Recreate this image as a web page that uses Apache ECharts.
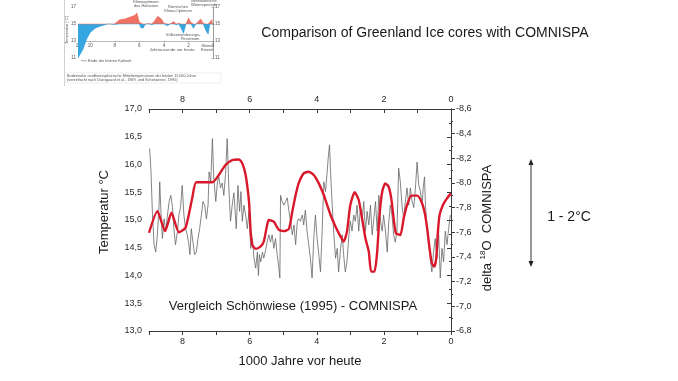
<!DOCTYPE html>
<html>
<head>
<meta charset="utf-8">
<script src="https://cdn.jsdelivr.net/npm/echarts@6/dist/echarts.min.js"></script>
<style>
html,body{margin:0;padding:0;background:#ffffff;}
#chart{width:678px;height:381px;}
</style>
</head>
<body>
<div id="chart"></div>
<script>
// ---- Main chart: Schönwiese (1995) temperature reconstruction (left axis, °C)
const redYears = [9.00,8.75,8.52,8.33,8.11,7.91,7.71,7.59,7.11,6.92,
  6.72,6.52,6.32,6.22,6.12,6.02,5.97,5.92,5.82,5.68,
  5.58,5.48,5.43,5.28,5.13,4.98,4.83,4.73,4.63,4.54,
  4.39,4.24,4.09,3.94,3.79,3.74,3.59,3.44,3.29,3.20,
  3.10,3.00,2.87,2.75,2.65,2.55,2.45,2.38,2.28,2.20,
  2.13,2.05,1.96,1.86,1.78,1.71,1.64,1.51,1.41,1.31,
  1.18,1.01,0.88,0.79,0.71,0.64,0.57,0.50,0.44,0.39,
  0.34,0.24,0.12,0.00];
const redTemp = [14.77,15.16,14.80,15.13,14.78,14.86,15.40,15.68,15.68,15.81,
  15.99,16.08,16.09,16.02,15.81,15.33,14.79,14.55,14.48,14.52,
  14.61,14.91,15.00,14.97,14.82,14.80,14.84,15.15,15.45,15.66,
  15.84,15.87,15.81,15.66,15.45,15.36,15.09,14.88,14.70,14.61,
  14.79,15.27,15.50,15.36,15.03,14.67,14.43,14.07,14.07,14.43,
  15.09,15.51,15.66,15.60,15.39,15.03,14.76,14.73,15.03,15.27,
  15.44,15.44,15.33,15.15,14.85,14.49,14.22,14.16,14.31,14.79,
  15.09,15.27,15.39,15.48];

// ---- Main chart: COMNISPA delta 18O (right axis, inverted)
const greyYears = [8.98,8.94,8.90,8.85,8.80,8.75,8.70,8.68,8.64,8.60,
  8.55,8.50,8.45,8.40,8.35,8.30,8.26,8.21,8.15,8.11,
  8.06,8.01,7.96,7.91,7.86,7.81,7.78,7.74,7.69,7.64,
  7.59,7.54,7.49,7.44,7.39,7.34,7.29,7.24,7.21,7.16,
  7.11,7.07,7.01,6.96,6.92,6.87,6.82,6.77,6.72,6.67,
  6.62,6.57,6.52,6.47,6.44,6.40,6.35,6.30,6.26,6.22,
  6.17,6.12,6.07,6.02,5.97,5.92,5.87,5.82,5.77,5.74,
  5.71,5.67,5.62,5.58,5.53,5.48,5.43,5.38,5.33,5.28,
  5.23,5.18,5.13,5.10,5.08,5.03,4.98,4.93,4.88,4.83,
  4.78,4.73,4.68,4.63,4.58,4.54,4.49,4.43,4.39,4.34,
  4.29,4.24,4.19,4.14,4.09,4.04,3.99,3.94,3.89,3.84,
  3.79,3.74,3.69,3.66,3.62,3.59,3.54,3.49,3.44,3.39,
  3.35,3.29,3.24,3.20,3.15,3.10,3.05,3.00,2.95,2.90,
  2.85,2.80,2.75,2.70,2.65,2.60,2.55,2.50,2.45,2.40,
  2.35,2.30,2.25,2.20,2.15,2.10,2.05,2.01,1.96,1.90,
  1.86,1.81,1.76,1.71,1.66,1.61,1.56,1.51,1.46,1.41,
  1.36,1.31,1.26,1.21,1.16,1.11,1.06,1.01,0.96,0.91,
  0.86,0.83,0.79,0.76,0.71,0.67,0.62,0.57,0.52,0.47,
  0.42,0.37,0.32,0.27,0.22,0.17,0.12,0.07,0.02];
const greyDelta = [-8.28,-8.09,-7.77,-7.50,-7.44,-7.58,-7.82,-8.01,-7.74,-7.55,
  -7.71,-7.61,-7.74,-7.85,-7.90,-7.80,-7.63,-7.50,-7.61,-7.74,
  -7.80,-7.98,-7.74,-7.63,-7.58,-7.50,-7.42,-7.63,-7.52,-7.42,
  -7.44,-7.55,-7.63,-7.74,-7.85,-7.82,-7.71,-7.82,-8.09,-8.01,
  -8.36,-8.04,-7.85,-8.01,-8.05,-7.96,-8.00,-7.90,-8.07,-8.36,
  -7.96,-7.69,-7.82,-7.92,-7.80,-7.63,-7.98,-7.77,-7.93,-7.69,
  -7.82,-7.74,-7.63,-7.77,-7.47,-7.55,-7.39,-7.31,-7.44,-7.25,
  -7.42,-7.36,-7.44,-7.39,-7.45,-7.52,-7.58,-7.52,-7.58,-7.47,
  -7.55,-7.42,-7.31,-7.23,-7.90,-7.85,-7.82,-7.85,-7.88,-7.77,
  -7.69,-7.58,-7.66,-7.50,-7.69,-7.71,-7.69,-7.74,-7.66,-7.78,
  -7.61,-7.50,-7.39,-7.23,-7.55,-7.74,-7.55,-7.42,-7.28,-7.61,
  -8.01,-7.93,-8.09,-8.20,-8.31,-8.09,-7.82,-7.58,-7.39,-7.47,
  -7.28,-7.47,-7.58,-7.42,-7.28,-7.36,-7.55,-7.69,-7.61,-7.74,
  -7.69,-7.82,-7.61,-7.80,-7.69,-7.85,-7.61,-7.77,-7.66,-7.82,
  -7.58,-7.71,-7.85,-7.61,-7.90,-7.69,-7.61,-7.74,-7.63,-7.44,
  -7.66,-7.82,-7.74,-7.58,-7.52,-7.61,-8.12,-8.01,-7.82,-7.71,
  -7.85,-7.96,-7.82,-7.96,-7.85,-7.80,-7.96,-8.17,-7.98,-7.93,
  -7.82,-7.96,-8.05,-7.82,-7.61,-7.52,-7.39,-7.28,-7.44,-7.55,
  -7.39,-7.61,-7.23,-7.47,-7.36,-7.61,-7.50,-7.63,-7.74];

// ---- Inset: simplified Holocene temperature curve (°C, thousands of years before present)
const insetYears = [11.0,10.85,10.6,10.3,10.0,9.6,9.2,8.8,8.6,8.5,8.35,8.2,8.05,7.9,7.6,7.2,6.8,6.4,6.2,6.0,
  5.9,5.7,5.5,5.2,5.0,4.8,4.5,4.2,4.0,3.7,3.5,3.2,3.0,2.8,2.6,2.4,2.2,2.0,1.8,1.6,
  1.4,1.2,1.0,0.8,0.6,0.4,0.25,0.1,0.0];
const insetTemp = [11.0,11.0,12.0,13.2,14.0,14.5,14.75,14.9,15.0,15.15,15.0,15.15,14.95,15.05,15.5,15.6,15.8,16.0,16.3,15.2,
  14.6,14.5,15.0,15.05,14.9,15.3,15.9,15.6,15.1,14.8,15.0,15.3,14.9,15.1,14.5,13.9,15.0,15.7,15.2,14.5,
  15.0,15.3,15.6,15.1,14.3,13.8,15.0,15.5,15.4];
const insetBase = 15;

const F = '"Liberation Sans", Arial, sans-serif';
const comma = v => (Math.round(v * 10) / 10).toFixed(1).replace('.', ',');
const AX = '#3a3a3a';

const redData = redYears.map((x, i) => [x, redTemp[i]]);
const greyData = greyYears.map((x, i) => [x, greyDelta[i]]);
const warmData = insetYears.map((x, i) => [x, Math.max(insetTemp[i], insetBase)]);
const coldData = insetYears.map((x, i) => [x, Math.min(insetTemp[i], insetBase)]);

const chart = echarts.init(document.getElementById('chart'), null, {renderer: 'canvas'});

const mainX = (pos) => ({
  gridIndex: 0, type: 'value', min: 0, max: 9, interval: 1, inverse: true, position: pos,
  axisLine: {show: true, onZero: false, lineStyle: {color: AX, width: 1}},
  axisTick: {show: true, inside: pos === 'top', length: 4, lineStyle: {color: AX}},
  axisLabel: {formatter: v => (Math.round(v) % 2 === 0 ? String(Math.round(v)) : ''), fontSize: 9,
    fontFamily: F, color: '#2a2a2a', margin: pos === 'top' ? 5 : 6, showMinLabel: true, showMaxLabel: true},
  splitLine: {show: false}
});

const inTxt = (x, y, text, size, align) => ({
  type: 'text', x: x, y: y, silent: true,
  style: {text: text, font: (size || 4) + 'px ' + F, fill: '#555', align: align || 'center', verticalAlign: 'middle'}
});

const option = {
  animation: false,
  backgroundColor: '#ffffff',
  grid: [
    {left: 149, right: 227, top: 109, bottom: 50},
    {left: 78, right: 465, top: 7, bottom: 323}
  ],
  xAxis: [
    mainX('bottom'),
    mainX('top'),
    {gridIndex: 1, type: 'value', min: 0, max: 11, interval: 2, inverse: true, position: 'bottom', offset: -17,
      axisLine: {show: true, onZero: false, lineStyle: {color: '#888', width: 0.6}},
      axisTick: {show: true, length: 1.5, lineStyle: {color: '#888', width: 0.6}},
      axisLabel: {fontSize: 4.5, color: '#555', margin: 2, fontFamily: F},
      splitLine: {show: false}}
  ],
  yAxis: [
    {gridIndex: 0, type: 'value', min: 13, max: 17, interval: 0.5, position: 'left',
      axisLine: {show: true, lineStyle: {color: AX, width: 1}},
      axisTick: {show: true, length: 4, lineStyle: {color: AX}},
      minorTick: {show: true, splitNumber: 2, length: 2, lineStyle: {color: AX}},
      axisLabel: {formatter: comma, fontSize: 9, fontFamily: F, color: '#2a2a2a', margin: 7},
      splitLine: {show: false}},
    {gridIndex: 0, type: 'value', min: -8.6, max: -6.8, interval: 0.2, inverse: true, position: 'right',
      axisLine: {show: true, lineStyle: {color: AX, width: 1}},
      axisTick: {show: true, length: 4, lineStyle: {color: AX}},
      minorTick: {show: true, splitNumber: 2, length: 2, lineStyle: {color: AX}},
      axisLabel: {formatter: comma, fontSize: 9, fontFamily: F, color: '#2a2a2a', margin: 5},
      splitLine: {show: false}},
    {gridIndex: 1, type: 'value', min: 11, max: 17, interval: 2, position: 'left',
      axisLine: {show: true, lineStyle: {color: '#888', width: 0.6}},
      axisTick: {show: true, length: 1.5, lineStyle: {color: '#888', width: 0.6}},
      axisLabel: {fontSize: 4.5, color: '#555', margin: 2, fontFamily: F},
      splitLine: {show: false}},
    {gridIndex: 1, type: 'value', min: 11, max: 17, interval: 2, position: 'right',
      axisLine: {show: true, lineStyle: {color: '#888', width: 0.6}},
      axisTick: {show: true, length: 1.5, lineStyle: {color: '#888', width: 0.6}},
      axisLabel: {fontSize: 4.5, color: '#555', margin: 2, fontFamily: F},
      splitLine: {show: false}}
  ],
  series: [
    {name: 'COMNISPA', type: 'line', xAxisIndex: 0, yAxisIndex: 1, data: greyData,
      symbol: 'none', lineStyle: {color: '#666666', width: 0.8}, z: 2},
    {name: 'Schönwiese', type: 'line', xAxisIndex: 0, yAxisIndex: 0, data: redData,
      symbol: 'none', smooth: 0.2, lineStyle: {color: '#d9182b', width: 2.4}, z: 3},
    {type: 'line', xAxisIndex: 2, yAxisIndex: 2, data: warmData, symbol: 'none',
      lineStyle: {color: '#e8604f', width: 0.5}, areaStyle: {color: '#f07262', origin: insetBase, opacity: 1}},
    {type: 'line', xAxisIndex: 2, yAxisIndex: 2, data: coldData, symbol: 'none',
      lineStyle: {color: '#2a9bd6', width: 0.5}, areaStyle: {color: '#36a6e0', origin: insetBase, opacity: 1}}
  ],
  graphic: {elements: [
    {type: 'text', x: 425, y: 33, silent: true,
      style: {text: 'Comparison of Greenland Ice cores with COMNISPA', font: '14px ' + F, fill: '#1a1a1a', align: 'center', verticalAlign: 'middle'}},
    {type: 'text', x: 300, y: 361, silent: true,
      style: {text: '1000 Jahre vor heute', font: '13px ' + F, fill: '#1a1a1a', align: 'center', verticalAlign: 'middle'}},
    {type: 'text', x: 104, y: 212, rotation: Math.PI / 2, silent: true,
      style: {text: 'Temperatur °C', font: '13px ' + F, fill: '#1a1a1a', align: 'center', verticalAlign: 'middle'}},
    {type: 'text', x: 487, y: 228, rotation: Math.PI / 2, silent: true,
      style: {text: '{a|delta }{s|18}{a|O  COMNISPA}', align: 'center', verticalAlign: 'middle',
        rich: {a: {font: '13px ' + F, fill: '#1a1a1a', lineHeight: 16},
               s: {font: '8px ' + F, fill: '#1a1a1a', lineHeight: 9, verticalAlign: 'top'}}}},
    {type: 'text', x: 293, y: 306, silent: true,
      style: {text: 'Vergleich Schönwiese (1995) - COMNISPA', font: '13px ' + F, fill: '#1a1a1a', align: 'center', verticalAlign: 'middle'}},
    {type: 'text', x: 569, y: 217, silent: true,
      style: {text: '1 - 2°C', font: '14px ' + F, fill: '#1a1a1a', align: 'center', verticalAlign: 'middle'}},
    {type: 'line', silent: true, shape: {x1: 531, y1: 163, x2: 531, y2: 263}, style: {stroke: '#333', lineWidth: 1}},
    {type: 'polygon', silent: true, shape: {points: [[531, 159], [528.5, 165], [533.5, 165]]}, style: {fill: '#222'}},
    {type: 'polygon', silent: true, shape: {points: [[531, 267], [528.5, 261], [533.5, 261]]}, style: {fill: '#222'}},
    // inset decorations
    {type: 'line', silent: true, shape: {x1: 64.5, y1: 0, x2: 64.5, y2: 86}, style: {stroke: '#d0d0d0', lineWidth: 1}},
    {type: 'rect', silent: true, shape: {x: 65, y: 73, width: 156, height: 10}, style: {fill: 'none', stroke: '#e2e2e2', lineWidth: 0.6}},
    inTxt(146, 2, 'Klimaoptimum', 4),
    inTxt(146, 6, 'des Holozäns', 4),
    inTxt(178, 7, 'Römisches', 4),
    inTxt(178, 11, 'Klima-Optimum', 4),
    inTxt(204, 1, 'Mittelalterliche', 4),
    inTxt(204, 5, 'Wärmeperiode', 4),
    inTxt(183, 35, 'Völkerwanderungs-', 4),
    inTxt(190, 39, 'Pessimum', 4),
    inTxt(207, 46, 'Kleine', 4),
    inTxt(207, 50, 'Eiszeit', 4),
    inTxt(88, 61, 'Ende der letzten Kaltzeit', 4, 'left'),
    {type: 'line', silent: true, shape: {x1: 81, y1: 60.5, x2: 87, y2: 61}, style: {stroke: '#555', lineWidth: 0.5}},
    inTxt(172, 50, 'Jahrtausende vor heute', 4.3),
    {type: 'text', x: 67, y: 30, rotation: Math.PI / 2, silent: true,
      style: {text: 'Temperatur [°C]', font: '4px ' + F, fill: '#555', align: 'center', verticalAlign: 'middle'}},
    inTxt(67, 76, 'Bodennahe nordhemisphärische Mitteltemperaturen der letzten 11.000 Jahre', 3.8, 'left'),
    inTxt(67, 80, '(vereinfacht nach Dansgaard et al., 1969, und Schönwiese, 1995)', 3.8, 'left')
  ]}
};
chart.setOption(option);
</script>
</body>
</html>
